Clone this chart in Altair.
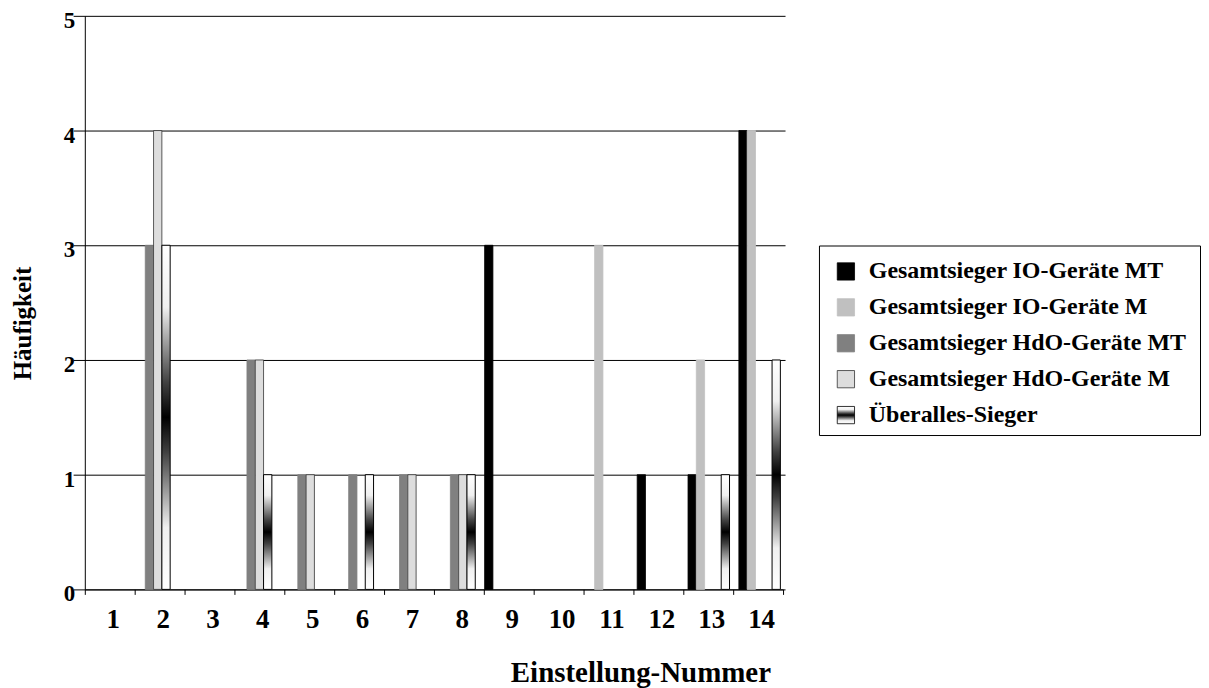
import altair as alt
import pandas as pd

# ---------------- data ----------------
categories = [str(i) for i in range(1, 15)]
series = [
    "Gesamtsieger IO-Geräte MT",
    "Gesamtsieger IO-Geräte M",
    "Gesamtsieger HdO-Geräte MT",
    "Gesamtsieger HdO-Geräte M",
    "Überalles-Sieger",
]
io_mt  = [0, 0, 0, 0, 0, 0, 0, 0, 3, 0, 0, 1, 1, 4]
io_m   = [0, 0, 0, 0, 0, 0, 0, 0, 0, 0, 3, 0, 2, 4]
hdo_mt = [0, 3, 0, 2, 1, 1, 1, 1, 0, 0, 0, 0, 0, 0]
hdo_m  = [0, 4, 0, 2, 1, 0, 1, 1, 0, 0, 0, 0, 0, 0]
ueber  = [0, 3, 0, 1, 0, 1, 0, 1, 0, 0, 0, 0, 1, 2]
y_ticks = [0, 1, 2, 3, 4, 5]

solid_colors = ["#000000", "#C0C0C0", "#808080", "#DDDDDD"]
solid_strokes = ["#000000", "#C0C0C0", "#808080", "#333333"]

rows = []
for name, vals in zip(series, [io_mt, io_m, hdo_mt, hdo_m, ueber]):
    for c, v in zip(categories, vals):
        rows.append({"cat": c, "series": name, "value": v})
df = pd.DataFrame(rows)
cat_df = pd.DataFrame({"cat": categories})
legend_df = pd.DataFrame({"series": series})

FONT = "Liberation Serif"

grad = alt.LinearGradient(
    gradient="linear",
    x1=0, x2=0, y1=0, y2=1,
    stops=[
        alt.GradientStop(color="#ffffff", offset=0),
        alt.GradientStop(color="#f0f0f0", offset=0.18),
        alt.GradientStop(color="#404040", offset=0.4),
        alt.GradientStop(color="#000000", offset=0.5),
        alt.GradientStop(color="#404040", offset=0.6),
        alt.GradientStop(color="#f0f0f0", offset=0.82),
        alt.GradientStop(color="#ffffff", offset=1),
    ],
)

bar_x = alt.X(
    "cat:O",
    scale=alt.Scale(type="band", domain=categories, range=[-11.7, 702.0],
                    paddingInner=0.184, paddingOuter=0.092),
    axis=None,
)
bar_xoff = alt.XOffset("series:N", scale=alt.Scale(domain=series, paddingInner=0, paddingOuter=0))
bar_y = alt.Y(
    "value:Q",
    scale=alt.Scale(domain=[0, 5], nice=False),
    axis=alt.Axis(
        values=y_ticks, title="Häufigkeit", grid=True, gridColor="#000000", gridWidth=1,
        domainColor="#000000", ticks=False,
        labelFont=FONT, labelFontSize=23, labelFontWeight="bold", labelColor="#000000",
        labelPadding=10, labelOffset=4.5,
        titleFont=FONT, titleFontSize=25, titleFontWeight="bold", titleColor="#000000",
        titleX=-49, titleY=308, titleAngle=270,
    ),
)

base = alt.Chart(df).transform_filter("datum.value > 0")

solid = base.transform_filter(alt.FieldOneOfPredicate(field="series", oneOf=series[:4])).mark_bar(
    strokeWidth=0.8
).encode(
    x=bar_x, xOffset=bar_xoff, y=bar_y,
    color=alt.Color("series:N", scale=alt.Scale(domain=series[:4], range=solid_colors), legend=None),
    stroke=alt.Stroke("series:N", scale=alt.Scale(domain=series[:4], range=solid_strokes), legend=None),
)

gradbars = base.transform_filter(alt.FieldEqualPredicate(field="series", equal=series[4])).mark_bar(
    color=grad, stroke="#000000", strokeWidth=1
).encode(x=bar_x, xOffset=bar_xoff, y=bar_y)

axis_layer = alt.Chart(cat_df).mark_point(opacity=0).encode(
    x=alt.X(
        "cat:O",
        scale=alt.Scale(type="band", domain=categories, paddingInner=0, paddingOuter=0),
        axis=alt.Axis(
            title="Einstellung-Nummer", labelAngle=0, tickBand="extent", grid=False,
            domainColor="#000000", tickColor="#000000", tickSize=5,
            labelFont=FONT, labelFontSize=27, labelFontWeight="bold", labelColor="#000000",
            labelPadding=12, labelOffset=3,
            titleFont=FONT, titleFontSize=29, titleFontWeight="bold", titleColor="#000000",
            titleX=557, titleY=92, titleBaseline="alphabetic", titleAlign="center",
        ),
    )
)

main = alt.layer(alt.layer(solid, gradbars), axis_layer).resolve_scale(x="independent").properties(
    width=700, height=575,
    view=alt.ViewBackground(stroke="transparent", strokeWidth=0),
)

leg_y = alt.Y("series:N", scale=alt.Scale(type="point", domain=series, range=[8, 188], padding=0.5), axis=None)
leg_sq = alt.Chart(legend_df).transform_filter(
    alt.FieldOneOfPredicate(field="series", oneOf=series[:4])
).mark_square(size=300, opacity=1, strokeWidth=0.8).encode(
    y=leg_y, x=alt.value(27),
    color=alt.Color("series:N", scale=alt.Scale(domain=series[:4], range=solid_colors), legend=None),
    stroke=alt.Stroke("series:N", scale=alt.Scale(domain=series[:4], range=solid_strokes), legend=None),
)
leg_grad = alt.Chart(legend_df).transform_filter(
    alt.FieldEqualPredicate(field="series", equal=series[4])
).mark_square(size=300, opacity=1, color=grad, stroke="#000000", strokeWidth=0.8).encode(
    y=leg_y, x=alt.value(27)
)
leg_text = alt.Chart(legend_df).mark_text(
    align="left", baseline="middle", font=FONT, fontSize=24, fontWeight="bold", color="#000000"
).encode(y=leg_y, x=alt.value(50), text="series:N")

legend = alt.layer(leg_sq, leg_grad, leg_text).properties(
    width=382, height=190,
    view=alt.ViewBackground(stroke="#000000", strokeWidth=1),
    title=alt.TitleParams(text=" ", orient="bottom", fontSize=8, offset=14),
)

chart = alt.hconcat(
    main, legend, spacing=34, center=True,
    padding={"left": 3, "top": 0, "right": 0, "bottom": 0},
).configure_view(stroke="transparent", strokeWidth=0).configure_axisX(grid=False).configure(font=FONT)

chart.save("out.html", embed_options={"renderer": "svg", "actions": False})
